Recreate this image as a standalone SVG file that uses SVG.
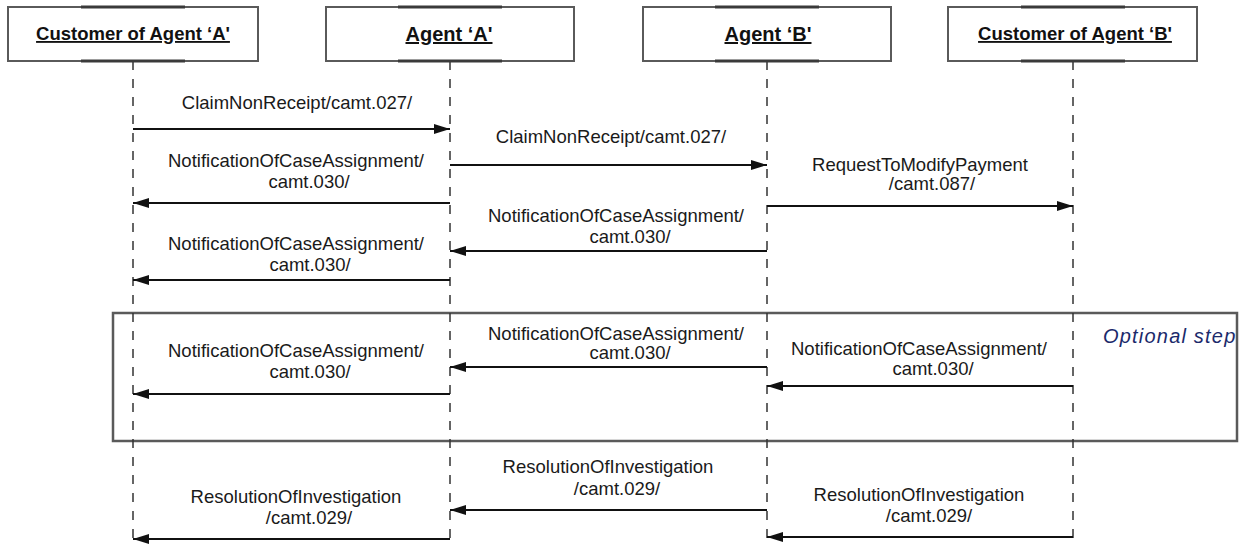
<svg xmlns="http://www.w3.org/2000/svg" width="1251" height="546" viewBox="0 0 1251 546">
  <style>
    .box { fill: #ffffff; stroke: #5a5a5a; stroke-width: 2; }
    .boxmark { stroke: #3a3a3a; stroke-width: 3; }
    .title { font-family: "Liberation Sans", Arial, sans-serif; font-weight: bold; fill: #111; text-anchor: middle; text-decoration: underline; }
    .life { stroke: #333; stroke-width: 1.5; stroke-dasharray: 9 9; fill: none; }
    .msg { stroke: #111; stroke-width: 2; fill: none; marker-end: url(#head); }
    .lbl { font-family: "Liberation Sans", Arial, sans-serif; font-size: 18.5px; fill: #1a1a1a; text-anchor: middle; }
    .frame { fill: none; stroke: #5a5a5a; stroke-width: 2.5; }
    .note { font-family: "Liberation Sans", Arial, sans-serif; font-style: italic; font-size: 20px; letter-spacing: 1.2px; fill: #1b2a6b; }
  </style>
  <defs>
    <marker id="head" markerUnits="userSpaceOnUse" markerWidth="16" markerHeight="12" refX="16" refY="6" orient="auto">
      <path d="M0,1 L16,6 L0,11 z" fill="#111"/>
    </marker>
    <clipPath id="frameClip">
      <rect x="113" y="313" width="1123" height="128"/>
    </clipPath>
  </defs>

  <rect width="1251" height="546" fill="#ffffff"/>

  <!-- optional-step frame -->
  <g id="optional-frame">
    <rect class="frame" x="113" y="313" width="1124" height="128"/>
    <text class="note" x="1103" y="343" clip-path="url(#frameClip)">Optional step</text>
  </g>

  <!-- lifelines -->
  <g id="lifelines">
    <line class="life" x1="133" y1="61" x2="133" y2="546"/>
    <line class="life" x1="450" y1="61" x2="450" y2="546"/>
    <line class="life" x1="767" y1="61" x2="767" y2="546"/>
    <line class="life" x1="1073" y1="61" x2="1073" y2="546"/>
  </g>

  <!-- participants -->
  <g id="customer-a">
    <rect class="box" x="8" y="7" width="250" height="54"/>
    <line class="boxmark" x1="81" y1="7" x2="185" y2="7"/>
    <line class="boxmark" x1="81" y1="61" x2="185" y2="61"/>
    <text class="title" x="133" y="40" font-size="18.5">Customer of Agent ‘A'</text>
  </g>
  <g id="agent-a">
    <rect class="box" x="326" y="7" width="248" height="54"/>
    <line class="boxmark" x1="398" y1="7" x2="502" y2="7"/>
    <line class="boxmark" x1="398" y1="61" x2="502" y2="61"/>
    <text class="title" x="449" y="41" font-size="20">Agent ‘A'</text>
  </g>
  <g id="agent-b">
    <rect class="box" x="643" y="7" width="248" height="54"/>
    <line class="boxmark" x1="715" y1="7" x2="819" y2="7"/>
    <line class="boxmark" x1="715" y1="61" x2="819" y2="61"/>
    <text class="title" x="768" y="41" font-size="20">Agent ‘B'</text>
  </g>
  <g id="customer-b">
    <rect class="box" x="948" y="7" width="249" height="54"/>
    <line class="boxmark" x1="1021" y1="7" x2="1125" y2="7"/>
    <line class="boxmark" x1="1021" y1="61" x2="1125" y2="61"/>
    <text class="title" x="1075" y="40" font-size="18.5">Customer of Agent ‘B'</text>
  </g>

  <!-- messages -->
  <g id="connectors">
    <line class="msg" x1="133" y1="129" x2="450" y2="129"/>
    <line class="msg" x1="450" y1="165" x2="767" y2="165"/>
    <line class="msg" x1="450" y1="203" x2="133" y2="203"/>
    <line class="msg" x1="767" y1="206" x2="1073" y2="206"/>
    <line class="msg" x1="767" y1="251" x2="450" y2="251"/>
    <line class="msg" x1="450" y1="280" x2="133" y2="280"/>
    <line class="msg" x1="767" y1="367" x2="450" y2="367"/>
    <line class="msg" x1="1073" y1="386" x2="767" y2="386"/>
    <line class="msg" x1="450" y1="394" x2="133" y2="394"/>
    <line class="msg" x1="767" y1="510" x2="450" y2="510"/>
    <line class="msg" x1="1073" y1="537" x2="767" y2="537"/>
    <line class="msg" x1="450" y1="539" x2="133" y2="539"/>
  </g>

  <!-- message labels -->
  <g id="labels">
    <text class="lbl" x="297" y="109">ClaimNonReceipt/camt.027/</text>
    <text class="lbl" x="611" y="143">ClaimNonReceipt/camt.027/</text>

    <text class="lbl" x="296" y="167">NotificationOfCaseAssignment/</text>
    <text class="lbl" x="309" y="188">camt.030/</text>

    <text class="lbl" x="920" y="171">RequestToModifyPayment</text>
    <text class="lbl" x="932" y="190">/camt.087/</text>

    <text class="lbl" x="616" y="222">NotificationOfCaseAssignment/</text>
    <text class="lbl" x="630" y="243">camt.030/</text>

    <text class="lbl" x="296" y="250">NotificationOfCaseAssignment/</text>
    <text class="lbl" x="310" y="271">camt.030/</text>

    <text class="lbl" x="616" y="340">NotificationOfCaseAssignment/</text>
    <text class="lbl" x="630" y="359">camt.030/</text>

    <text class="lbl" x="919" y="355">NotificationOfCaseAssignment/</text>
    <text class="lbl" x="933" y="375">camt.030/</text>

    <text class="lbl" x="296" y="357">NotificationOfCaseAssignment/</text>
    <text class="lbl" x="310" y="378">camt.030/</text>

    <text class="lbl" x="608" y="473">ResolutionOfInvestigation</text>
    <text class="lbl" x="617" y="495">/camt.029/</text>

    <text class="lbl" x="919" y="501">ResolutionOfInvestigation</text>
    <text class="lbl" x="929" y="522">/camt.029/</text>

    <text class="lbl" x="296" y="503">ResolutionOfInvestigation</text>
    <text class="lbl" x="309" y="524">/camt.029/</text>
  </g>
</svg>
